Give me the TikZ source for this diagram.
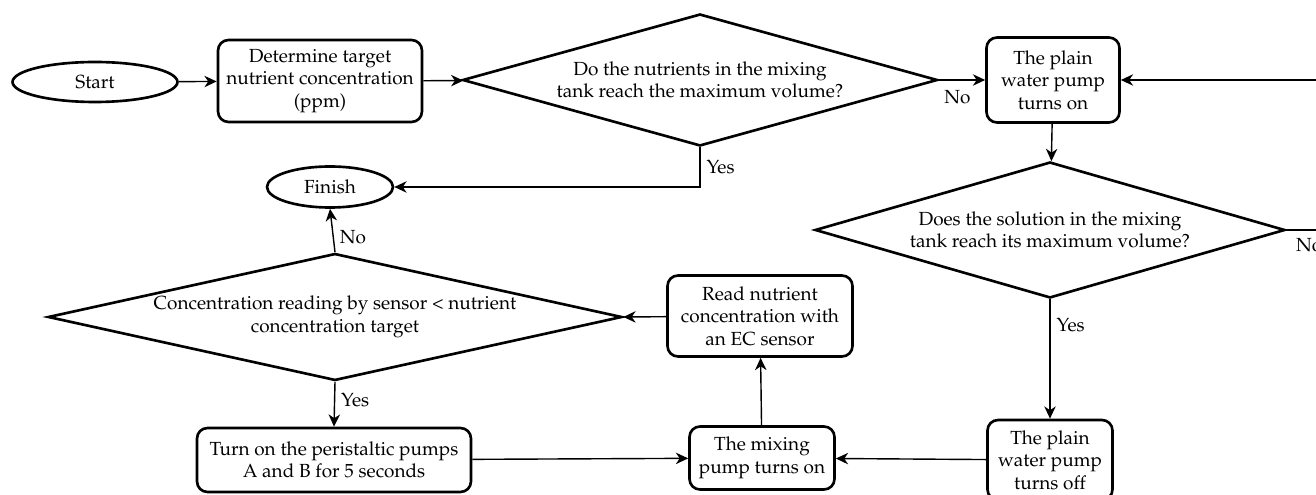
\documentclass[tikz,border=0pt]{standalone}
\usepackage[T1]{fontenc}
\usepackage{mathpazo}
\usetikzlibrary{shapes.geometric, arrows.meta}
\begin{document}
\begin{tikzpicture}[
    font=\fontsize{10.8}{12.8}\selectfont,
    box/.style={draw, line width=1.5pt, rounded corners=6pt, align=center, inner sep=1pt},
    oval/.style={draw, ellipse, line width=1.5pt, inner sep=1pt},
    choice/.style={draw, diamond, line width=1.5pt, align=center, inner sep=0pt},
    flow/.style={line width=0.8pt, -{Stealth[length=7pt, width=6.5pt, inset=2.2pt]}}
  ]
  \useasboundingbox (0,0) rectangle (26.32,9.9);
  % top row
  \node[oval, minimum width=3.3cm, minimum height=0.8cm] (start) at (1.9,8.26) {Start};
  \node[box, minimum width=4.08cm, minimum height=1.64cm] (target) at (6.4,8.28) {Determine target\\nutrient concentration\\(ppm)};
  \node[choice, aspect=3.6, minimum width=9.5cm, minimum height=2.64cm] (full) at (14.0,8.3) {Do the nutrients in the mixing\\tank reach the maximum volume?};
  \node[box, minimum width=2.66cm, minimum height=1.7cm] (wateron) at (21.06,8.3) {The plain\\water pump\\turns on};
  % right column
  \node[choice, aspect=3.46, minimum width=9.4cm, minimum height=2.72cm] (tankfull) at (21.0,5.3) {Does the solution in the mixing\\tank reach its maximum volume?};
  \node[box, minimum width=2.5cm, minimum height=1.6cm] (wateroff) at (21.0,0.7) {The plain\\water pump\\turns off};
  % middle and left
  \node[box, minimum width=2.9cm, minimum height=1.26cm] (mixer) at (15.24,0.74) {The mixing\\pump turns on};
  \node[box, minimum width=3.7cm, minimum height=1.62cm] (sensor) at (15.2,3.58) {Read nutrient\\concentration with\\an EC sensor};
  \node[choice, aspect=4.6, minimum width=11.48cm, minimum height=2.54cm] (check) at (6.7,3.56) {Concentration reading by sensor < nutrient\\concentration target};
  \node[oval, minimum width=2.52cm, minimum height=0.82cm] (finish) at (6.6,6.16) {Finish};
  \node[box, minimum width=5.48cm, minimum height=1.28cm] (dose) at (6.68,0.7) {Turn on the peristaltic pumps\\A and B for 5 seconds};

  \draw[flow] (start) -- (target);
  \draw[flow] (target) -- (full);
  \draw[flow] (full.east) -- (wateron.west) node[pos=0.4, below, yshift=-2pt] {No};
  \draw[flow] (wateron) -- (tankfull);
  \draw[flow] (tankfull.east) -- ++(0.62,0) |- (wateron.east);
  \node[below right] (no2) at (25.8,5.25) {No};
  \draw[flow] (tankfull.south) -- (wateroff.north) node[pos=0.22, right] {Yes};
  \draw[flow] (wateroff) -- (mixer);
  \draw[flow] (mixer) -- (sensor);
  \draw[flow] (sensor) -- (check.east);
  \draw[flow] (check.north) -- (finish.south) node[pos=0.35, right] {No};
  \draw[flow] (full.south) |- (finish.east) node[pos=0.25, right] {Yes};
  \draw[flow] (check.south) -- (dose.north) node[pos=0.4, right] {Yes};
  \draw[flow] (dose) -- (mixer);
\end{tikzpicture}
\end{document}
